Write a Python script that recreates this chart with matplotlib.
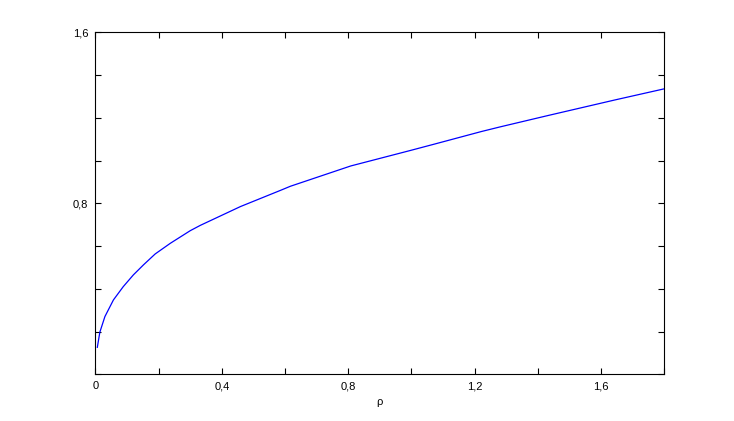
#!/usr/bin/env python3
"""Concave growth curve vs rho, MATLAB-style axes."""
import matplotlib
matplotlib.use("Agg")
import matplotlib.pyplot as plt
from matplotlib.ticker import FixedLocator

# values
rho = [0.006, 0.014, 0.030, 0.057, 0.088, 0.120, 0.152, 0.189, 0.237, 0.300,
       0.332, 0.459, 0.586, 0.617, 0.808, 0.998, 1.072, 1.221, 1.281, 1.432,
       1.644, 1.8]
val = [0.126, 0.197, 0.270, 0.348, 0.410, 0.465, 0.512, 0.563, 0.613, 0.672,
       0.697, 0.785, 0.861, 0.880, 0.975, 1.048, 1.077, 1.136, 1.158, 1.211,
       1.284, 1.336]

x_ticks = [0.0, 0.2, 0.4, 0.6, 0.8, 1.0, 1.2, 1.4, 1.6, 1.8]
x_labels = ["0", "", "0,4", "", "0,8", "", "1,2", "", "1,6", ""]
y_ticks = [0.0, 0.2, 0.4, 0.6, 0.8, 1.0, 1.2, 1.4, 1.6]
y_labels = ["", "", "", "", "0,8", "", "", "", "1,6"]

plt.rcParams["font.family"] = ["Liberation Sans", "DejaVu Sans"]

fig = plt.figure(figsize=(7.34, 4.21), dpi=100)
ax = fig.add_axes([0.13, 0.111, 0.775, 0.812])
ax.plot(rho, val, color="#0000ff", linewidth=0.9)

ax.set_xlim(0, 1.8)
ax.set_ylim(0, 1.6)
ax.xaxis.set_major_locator(FixedLocator(x_ticks))
ax.yaxis.set_major_locator(FixedLocator(y_ticks))
ax.set_xticklabels(x_labels)
ax.set_yticklabels(y_labels)
ax.tick_params(direction="in", length=4.5, width=0.8, top=True, right=True,
               labelsize=8, pad=5)
for s in ax.spines.values():
    s.set_linewidth(0.8)
ax.set_xlabel("ρ", fontsize=8, labelpad=4)

fig.savefig("out.png", dpi=100)
